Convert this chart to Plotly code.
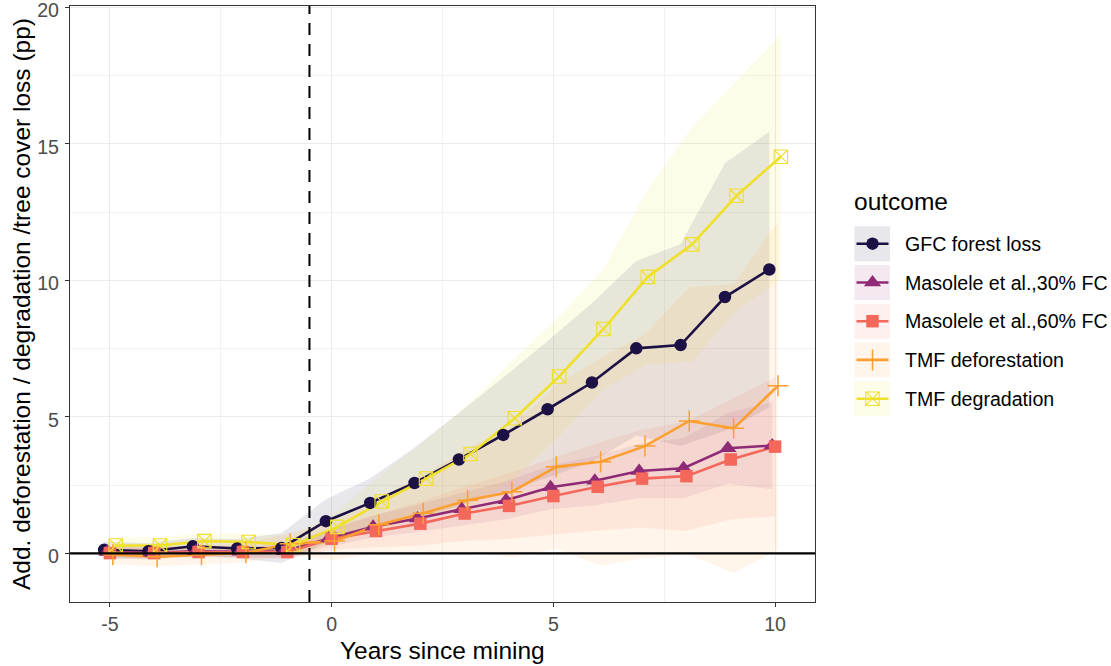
import plotly.graph_objects as go

# ---------------- data ----------------
years = list(range(-5, 11))
outcomes = ["GFC forest loss", "Masolele et al.,30% FC", "Masolele et al.,60% FC",
            "TMF deforestation", "TMF degradation"]

gfc_est = [0.13, 0.08, 0.26, 0.18, 0.20, 1.18, 1.85, 2.58, 3.44, 4.34, 5.28, 6.26, 7.51, 7.63, 9.39, 10.40]
gfc_ci = [0.30, 0.30, 0.30, 0.35, 0.55, 0.80, 0.90, 1.30, 1.70, 2.10, 2.50, 2.90, 3.20, 3.70, 4.90, 5.05]

m30_est = [0.05, 0.02, 0.08, 0.06, 0.08, 0.55, 0.98, 1.28, 1.62, 1.95, 2.42, 2.66, 3.02, 3.12, 3.85, 3.95]
m30_ci = [0.20, 0.20, 0.20, 0.20, 0.25, 0.30, 0.40, 0.50, 0.60, 0.70, 0.80, 0.90, 1.00, 1.10, 1.30, 1.60]

m60_est = [0.01, 0.01, 0.05, 0.05, 0.05, 0.54, 0.82, 1.09, 1.46, 1.74, 2.10, 2.44, 2.74, 2.83, 3.44, 3.91]
m60_ci = [0.20, 0.20, 0.20, 0.20, 0.25, 0.40, 0.60, 0.80, 1.00, 1.20, 1.40, 1.60, 1.80, 2.00, 2.20, 2.55]

def_est = [-0.05, -0.12, -0.05, 0.02, 0.35, 0.45, 1.05, 1.47, 1.95, 2.26, 3.17, 3.36, 3.93, 4.85, 4.58, 6.14]
def_ci = [0.35, 0.35, 0.35, 0.35, 0.40, 0.70, 1.00, 1.40, 1.90, 2.40, 3.00, 3.80, 4.10, 4.90, 5.30, 6.00]

deg_est = [0.29, 0.29, 0.45, 0.42, 0.30, 0.97, 1.90, 2.74, 3.64, 4.95, 6.48, 8.22, 10.13, 11.32, 13.10, 14.53]
deg_ci = [0.30, 0.30, 0.30, 0.30, 0.35, 0.60, 1.00, 1.40, 1.90, 2.20, 2.20, 2.20, 3.20, 4.30, 4.20, 4.50]

x_ticks = [-5, 0, 5, 10]
x_tick_text = ["-5", "0", "5", "10"]
y_ticks = [0, 5, 10, 15, 20]
y_tick_text = ["0", "5", "10", "15", "20"]
event_time = -0.5

# ---------------- style ----------------
W, H = 1111, 666
PL, PR, PT, PB = 70, 815, 6, 602
colors = ["#1C1044", "#8F2A76", "#F4685C", "#FD9F30", "#EFE02C"]
fills = ["rgba(28,16,68,0.10)", "rgba(143,42,118,0.10)", "rgba(244,104,92,0.10)",
         "rgba(253,159,48,0.10)", "rgba(239,224,44,0.10)"]
dodge = [-0.13, -0.065, 0.0, 0.065, 0.13]
symbols = ["circle", "triangle-up", "square", "cross-thin-open", "square-x-open"]
msizes = [12.5, 15, 12.5, 15, 13.5]
mline = [0, 0, 0, 1.5, 1.1]
FONT = "Liberation Sans, Arial, sans-serif"

ests = [gfc_est, m30_est, m60_est, def_est, deg_est]
cis = [gfc_ci, m30_ci, m60_ci, def_ci, deg_ci]

fig = go.Figure()

# ribbons
for i in range(5):
    xs = [y + dodge[i] for y in years]
    up = [e + c for e, c in zip(ests[i], cis[i])]
    lo = [e - c for e, c in zip(ests[i], cis[i])]
    fig.add_trace(go.Scatter(x=xs + xs[::-1], y=up + lo[::-1], fill="toself",
                             fillcolor=fills[i], line=dict(width=0), mode="lines",
                             hoverinfo="skip", showlegend=False))
# lines
for i in range(5):
    xs = [y + dodge[i] for y in years]
    fig.add_trace(go.Scatter(x=xs, y=ests[i], mode="lines",
                             line=dict(color=colors[i], width=2.6),
                             showlegend=False, hoverinfo="skip"))
# points
for i in range(5):
    xs = [y + dodge[i] for y in years]
    fig.add_trace(go.Scatter(x=xs, y=ests[i], mode="markers", name=outcomes[i],
                             marker=dict(symbol=symbols[i], size=msizes[i], color=colors[i],
                                         line=dict(color=colors[i], width=mline[i])),
                             showlegend=False))

# ---------------- custom legend (pixel coordinates on x2/y2) ----------------
row_c = [243.7, 282.5, 321.2, 359.9, 398.7]
for i in range(5):
    fig.add_shape(type="rect", xref="x2", yref="y2", x0=854.5, x1=890, y0=row_c[i] - 17.5,
                  y1=row_c[i] + 17.5, fillcolor=fills[i], line=dict(width=0), layer="below")
    fig.add_trace(go.Scatter(x=[856.5, 888.5], y=[row_c[i], row_c[i]], xaxis="x2", yaxis="y2",
                             mode="lines", line=dict(color=colors[i], width=2.6),
                             showlegend=False, hoverinfo="skip"))
    fig.add_trace(go.Scatter(x=[872.5], y=[row_c[i]], xaxis="x2", yaxis="y2", mode="markers",
                             marker=dict(symbol=symbols[i], size=msizes[i], color=colors[i],
                                         line=dict(color=colors[i], width=mline[i])),
                             showlegend=False, hoverinfo="skip"))
    fig.add_annotation(x=903, y=row_c[i], xref="x2", yref="y2", text=outcomes[i],
                       showarrow=False, xanchor="left", yanchor="middle",
                       font=dict(family=FONT, size=19.6, color="black"))
fig.add_annotation(x=852, y=201, xref="x2", yref="y2", text="outcome", showarrow=False,
                   xanchor="left", yanchor="middle", font=dict(family=FONT, size=24.5, color="black"))

# axis titles
fig.add_annotation(x=(PL + PR) / 2, y=650, xref="x2", yref="y2", text="Years since mining",
                   showarrow=False, xanchor="center", yanchor="middle",
                   font=dict(family=FONT, size=24.5, color="black"))
fig.add_annotation(x=21, y=(PT + PB) / 2, xref="x2", yref="y2",
                   text="Add. deforestation / degradation /tree cover loss (pp)", textangle=-90,
                   showarrow=False, xanchor="center", yanchor="middle",
                   font=dict(family=FONT, size=24.5, color="black"))

# reference lines
fig.add_shape(type="line", xref="x", yref="y", x0=-5.9, x1=10.9, y0=0, y1=0,
              line=dict(color="black", width=2.2))
fig.add_shape(type="line", xref="x", yref="y", x0=event_time, x1=event_time, y0=-1.78, y1=20.05,
              line=dict(color="black", width=2, dash="12px,9px"))

fig.update_layout(
    width=W, height=H, margin=dict(l=0, r=0, t=0, b=0, autoexpand=False),
    paper_bgcolor="white", plot_bgcolor="rgba(0,0,0,0)", showlegend=False,
    font=dict(family=FONT),
    xaxis=dict(domain=[PL / W, PR / W], range=[-5.9, 10.9], tickvals=x_ticks, ticktext=x_tick_text,
               automargin=False,
               showgrid=True, gridcolor="#EBEBEB", gridwidth=1.3, zeroline=False,
               showline=True, mirror=True, linecolor="#333333", linewidth=1.2,
               ticks="outside", ticklen=4, tickcolor="#333333", tickwidth=1.2,
               ticklabeloverflow="allow",
               tickfont=dict(family=FONT, size=19.6, color="#4D4D4D"),
               minor=dict(tickvals=[-2.5, 2.5, 7.5], showgrid=True, gridcolor="#F2F2F2", gridwidth=0.7, ticks=""),
               anchor="y"),
    yaxis=dict(domain=[1 - PB / H, 1 - PT / H], range=[-1.78, 20.05], tickvals=y_ticks,
               ticktext=y_tick_text, automargin=False,
               showgrid=True, gridcolor="#EBEBEB", gridwidth=1.3, zeroline=False,
               showline=True, mirror=True, linecolor="#333333", linewidth=1.2,
               ticks="outside", ticklen=4, tickcolor="#333333", tickwidth=1.2,
               ticklabeloverflow="allow", ticklabelstandoff=2, ticklabelshift=3,
               tickfont=dict(family=FONT, size=19.6, color="#4D4D4D"),
               minor=dict(tickvals=[2.5, 7.5, 12.5, 17.5], showgrid=True, gridcolor="#F2F2F2", gridwidth=0.7, ticks=""),
               anchor="x"),
    xaxis2=dict(domain=[0, 1], range=[0, W], visible=False, anchor="y2", fixedrange=True, automargin=False),
    yaxis2=dict(domain=[0, 1], range=[H, 0], visible=False, anchor="x2", fixedrange=True, automargin=False),
)

fig.write_html("out.html", config={"displayModeBar": False},
               post_script="document.body.style.margin='0';document.body.style.overflow='hidden';")
